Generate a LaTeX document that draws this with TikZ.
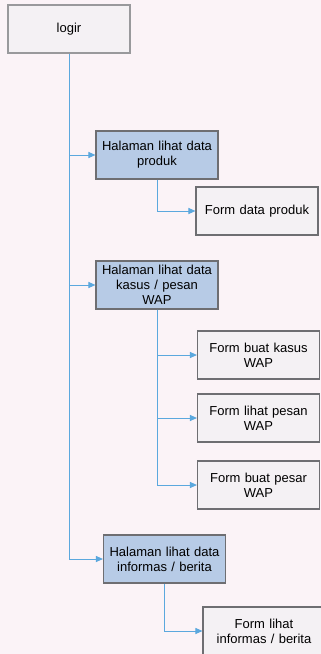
\documentclass[tikz,border=0pt]{standalone}
\usepackage{fontspec}
\setmainfont{Liberation Sans}
\usetikzlibrary{arrows.meta}

\definecolor{latar}{HTML}{FBF3F7}
\definecolor{biru}{HTML}{B7CBE6}
\definecolor{abu}{HTML}{F4F1F4}
\definecolor{garis}{HTML}{5BA8DE}
\definecolor{tepi}{HTML}{6E6E72}

\tikzset{
  kotak/.style={draw=tepi, line width=1.1pt, minimum width=122pt, minimum height=48pt,
    text width=120pt, align=center, inner sep=1pt, font=\fontsize{13}{15}\selectfont},
  halaman/.style={kotak, fill=biru},
  form/.style={kotak, fill=abu},
  hubung/.style={garis, line width=1pt, -{Triangle[length=7pt,width=6pt]}}
}

\begin{document}
\begin{tikzpicture}[x=1pt,y=-1pt]

% Latar
\useasboundingbox (0,0) rectangle (321,654);
\fill[latar] (0,0) rectangle (321,654);

% Kotak utama
\node[form, draw=tepi!70] (login) at (69,29) {logir};

% Halaman
\node[halaman] (produk) at (157,155) {Halaman lihat data\\produk};
\node[halaman] (kasus) at (157,285) {Halaman lihat data\\kasus / pesan\\WAP};
\node[halaman] (info) at (164.5,559) {Halaman lihat data\\informas / berita};

% Form
\node[form] (fproduk) at (257,211) {Form data produk};
\foreach \nama/\y/\teks in {fkasus/355/Form buat kasus, fpesan/418/Form lihat pesan, fbuat/485/Form buat pesar}{
  \node[form] (\nama) at (258.5,\y) {\teks\\WAP};
}
\node[form] (finfo) at (264,631) {Form lihat\\informas / berita};

% Garis penghubung
\foreach \tujuan in {produk, kasus, info}{
  \draw[hubung] (login.south) |- (\tujuan.west);
}
\draw[hubung] (produk.south) |- (fproduk.west);
\foreach \tujuan in {fkasus, fpesan, fbuat}{
  \draw[hubung] (kasus.south) |- (\tujuan.west);
}
\draw[hubung] (info.south) |- (finfo.west);

\end{tikzpicture}
\end{document}
